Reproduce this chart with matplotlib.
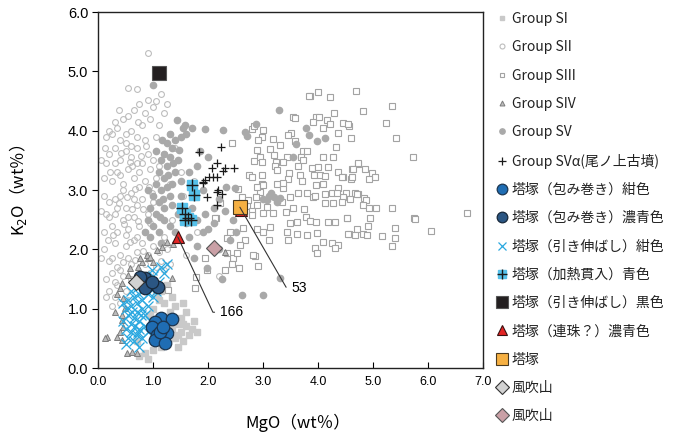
import numpy as np
import matplotlib
matplotlib.use("Agg")
import matplotlib.pyplot as plt

plt.rcParams['font.family'] = ['Noto Sans CJK JP', 'DejaVu Sans']

# ==============================
# DATA (MgO, K2O)
# ==============================
group_si = [(1.40, 0.50), (1.50, 0.60), (1.55, 0.45), (1.45, 0.75), (1.60, 0.70), (1.35, 0.65),
            (1.50, 0.85), (1.30, 0.95), (1.40, 1.05), (1.20, 1.10), (1.10, 1.15), (1.30, 0.80),
            (1.65, 0.55), (1.70, 0.65), (1.25, 0.45), (1.15, 0.35), (1.00, 0.30), (0.85, 0.25),
            (0.90, 0.15), (0.75, 0.20), (1.00, 1.00), (0.95, 0.90), (1.05, 1.25), (1.15, 1.30),
            (1.35, 1.20), (1.60, 0.95), (1.80, 0.60), (1.45, 0.35), (0.70, 0.45), (1.25, 1.40),
            (1.55, 1.10), (1.75, 0.80), (1.55, 0.75), (1.45, 0.55)]

group_sii = [(0.91, 5.31), (0.55, 4.72), (0.70, 4.70), (0.90, 4.52), (1.05, 4.50), (1.15, 4.62),
             (0.75, 4.45), (1.00, 4.40), (1.20, 4.30), (0.65, 4.35), (1.25, 4.45),
             (0.15, 3.90), (0.30, 4.15), (0.45, 4.20), (0.55, 4.25), (0.35, 4.05), (0.50, 3.95),
             (0.60, 4.00), (0.80, 4.10), (0.95, 4.20), (1.10, 4.10), (0.85, 3.85), (0.70, 3.90),
             (0.25, 3.95), (0.40, 3.85), (0.20, 4.00), (1.30, 3.95), (1.05, 3.90),
             (0.10, 3.20), (0.20, 3.60), (0.30, 3.70), (0.40, 3.50), (0.50, 3.65), (0.60, 3.55),
             (0.70, 3.70), (0.80, 3.45), (0.90, 3.60), (1.00, 3.50), (0.35, 3.30), (0.45, 3.10),
             (0.55, 3.35), (0.65, 3.20), (0.75, 3.30), (0.85, 3.15), (0.95, 3.35), (0.25, 3.15),
             (0.15, 3.45), (1.10, 3.40), (0.05, 3.50), (0.50, 3.80), (0.60, 3.75), (1.20, 3.60),
             (0.40, 3.25), (0.30, 3.45), (0.70, 3.45), (0.88, 3.75), (0.22, 3.30), (0.62, 3.40),
             (0.10, 2.90), (0.20, 2.80), (0.30, 2.60), (0.40, 2.90), (0.50, 2.70), (0.60, 2.95),
             (0.70, 2.75), (0.80, 2.85), (0.90, 2.60), (0.25, 2.40), (0.35, 2.30), (0.45, 2.50),
             (0.55, 2.35), (0.65, 2.55), (0.75, 2.40), (0.85, 2.30), (0.15, 2.60), (0.05, 2.65),
             (0.95, 2.45), (0.50, 2.25), (0.70, 2.20), (0.30, 2.85), (1.00, 2.80), (0.10, 2.30),
             (0.35, 2.70), (0.55, 2.55), (0.75, 3.05), (0.45, 3.00), (0.20, 2.55), (0.65, 2.85),
             (0.10, 2.00), (0.20, 1.80), (0.30, 2.10), (0.40, 1.90), (0.50, 2.05), (0.60, 1.75),
             (0.70, 1.95), (0.80, 2.10), (0.90, 1.90), (0.25, 1.60), (0.35, 1.70), (0.45, 1.55),
             (0.55, 1.85), (0.15, 1.50), (1.00, 2.05), (0.05, 1.85), (0.65, 2.15), (0.30, 1.45),
             (0.20, 1.30), (0.30, 1.20), (0.40, 1.10), (0.25, 1.05), (0.35, 1.40), (0.50, 1.30),
             (0.55, 1.15), (0.15, 1.20), (0.40, 1.65), (0.60, 1.50),
             (1.40, 3.70), (1.50, 3.30), (1.55, 2.90), (1.30, 3.10), (1.80, 2.30), (1.75, 3.15),
             (1.35, 2.50), (1.60, 1.90), (1.20, 2.20), (2.20, 1.55), (1.15, 1.80), (1.25, 2.00),
             (0.42, 3.62), (0.58, 3.48), (0.78, 3.58), (0.68, 3.02), (0.52, 2.88), (0.38, 2.78),
             (0.82, 2.68), (0.62, 2.68), (0.48, 2.42), (0.72, 2.48), (0.28, 2.25), (0.58, 2.12),
             (0.82, 1.98), (0.45, 1.78), (0.68, 1.82), (1.05, 1.70), (1.10, 1.95), (1.20, 1.65),
             (1.30, 1.75), (0.95, 1.60), (0.85, 1.75), (0.18, 2.15), (0.92, 3.05), (1.05, 3.20),
             (0.98, 2.95), (0.12, 3.70), (0.72, 4.15), (0.85, 4.30), (0.38, 4.35), (0.25, 1.85)]

group_siii = [(4.69, 4.67), (5.35, 4.42), (4.82, 4.33), (5.24, 4.13), (4.45, 4.13), (4.56, 4.08),
              (4.60, 3.87), (5.42, 3.88), (5.73, 3.56), (4.73, 3.44), (4.62, 3.36), (4.85, 3.36),
              (4.98, 3.29), (5.04, 3.22), (4.93, 3.19), (4.60, 3.19), (4.45, 3.22), (4.73, 2.93),
              (4.51, 2.95), (4.58, 2.85), (4.84, 2.87), (4.87, 2.83), (4.82, 2.75), (4.93, 2.70),
              (5.05, 2.70), (5.35, 2.70), (6.71, 2.61), (5.75, 2.53), (4.95, 2.53), (4.53, 2.53),
              (4.91, 2.39), (5.40, 2.36), (6.05, 2.31), (4.71, 2.34), (4.56, 2.26), (4.67, 2.24),
              (4.82, 2.26), (4.89, 2.24), (5.16, 2.22), (5.40, 2.19), (5.35, 2.05), (5.76, 2.51),
              (4.00, 4.65), (3.85, 4.58), (4.22, 4.57), (4.29, 4.30), (3.96, 4.23), (4.02, 4.23),
              (4.16, 4.18), (3.55, 4.23), (3.91, 4.15), (4.22, 4.11), (4.55, 4.11), (4.09, 4.05),
              (3.00, 4.01), (2.80, 4.03), (3.51, 3.96), (4.36, 3.96), (2.98, 3.89), (2.91, 3.84),
              (3.18, 3.86), (3.45, 3.93), (3.58, 3.83), (2.44, 3.80), (3.31, 3.76), (4.33, 3.73),
              (3.13, 3.69), (2.89, 3.67), (3.73, 3.66), (3.80, 3.66), (4.09, 3.56), (4.27, 3.56),
              (3.44, 3.56), (3.20, 3.59), (3.69, 3.56), (3.73, 3.51), (2.95, 3.56), (2.84, 3.49),
              (2.98, 3.47), (3.24, 3.47), (3.36, 3.47), (4.73, 3.46), (4.64, 3.36), (3.22, 3.40),
              (3.64, 3.40), (3.89, 3.37), (4.00, 3.39), (4.18, 3.39), (4.36, 3.30), (3.93, 3.25),
              (4.04, 3.25), (4.13, 3.24), (4.44, 3.22), (3.47, 3.29), (3.67, 3.25), (3.25, 3.34),
              (3.45, 3.19), (4.62, 3.22), (2.75, 3.25), (2.80, 3.22), (2.98, 3.25), (2.98, 3.10),
              (2.95, 2.97), (3.25, 3.10), (3.36, 3.03), (3.71, 3.15), (3.96, 3.08), (4.09, 3.10),
              (4.36, 3.03), (4.25, 2.95), (2.55, 3.02), (4.67, 2.95), (2.62, 2.88), (2.87, 2.88),
              (3.49, 2.88), (3.91, 2.88), (4.45, 2.88), (3.64, 2.95), (3.95, 2.90), (4.13, 2.93),
              (4.35, 2.95), (4.71, 2.93), (2.22, 2.78), (2.71, 2.73), (2.89, 2.75), (3.07, 2.71),
              (3.35, 2.80), (3.55, 2.70), (3.75, 2.68), (4.13, 2.78), (4.27, 2.78), (4.44, 2.80),
              (2.80, 2.65), (2.80, 2.58), (3.00, 2.61), (3.18, 2.61), (3.42, 2.63), (2.15, 2.53),
              (3.78, 2.55), (3.85, 2.48), (3.96, 2.46), (3.49, 2.45), (3.62, 2.46), (4.18, 2.46),
              (4.31, 2.46), (4.53, 2.53), (2.64, 2.36), (2.89, 2.34), (3.00, 2.29), (3.13, 2.38),
              (3.44, 2.29), (3.62, 2.26), (3.80, 2.24), (3.98, 2.28), (4.55, 2.26), (3.45, 2.16),
              (3.11, 2.16), (2.67, 2.16), (4.09, 2.12), (4.25, 2.10), (4.36, 2.07), (4.31, 2.02),
              (3.95, 2.02), (3.98, 1.94), (2.35, 1.94), (2.45, 1.85), (2.44, 1.75), (2.31, 1.65),
              (2.56, 1.69), (2.85, 1.89), (2.91, 1.72), (2.13, 2.53), (2.40, 2.29), (2.35, 2.19),
              (2.58, 2.07), (2.53, 1.94), (2.82, 1.90), (1.98, 1.65), (1.76, 1.35), (1.78, 1.53),
              (1.95, 1.85), (1.27, 1.31), (2.89, 3.05), (3.00, 3.08), (3.36, 3.12), (3.80, 2.95),
              (2.73, 2.83), (3.84, 4.58), (2.84, 4.08), (3.58, 4.21)]

group_siv = [(0.53, 0.25), (0.62, 0.27), (0.71, 0.25), (0.16, 0.52), (0.35, 0.52), (0.44, 0.47),
             (0.40, 0.61), (0.45, 0.69), (0.44, 0.81), (0.44, 0.89), (0.49, 1.01), (0.45, 1.18),
             (0.40, 1.35), (0.44, 1.43), (0.55, 1.57), (0.58, 1.69), (0.80, 1.79), (0.91, 1.85),
             (1.00, 1.79), (1.35, 1.52), (1.25, 2.12), (1.36, 2.09), (1.16, 2.04), (1.07, 1.99),
             (0.89, 1.90), (0.95, 1.87), (0.76, 1.85), (0.73, 1.70), (0.13, 0.50), (2.31, 1.96),
             (0.30, 0.95), (0.35, 1.25)]

group_sv = [(1.00, 4.77), (1.16, 3.84), (1.44, 4.18), (1.55, 4.04), (1.71, 4.04), (1.95, 4.03),
            (2.27, 4.01), (1.30, 3.95), (1.25, 3.80), (1.35, 3.70), (1.20, 3.60), (1.30, 3.55),
            (1.40, 3.85), (1.50, 3.90), (1.60, 3.95), (1.15, 3.50), (1.25, 3.40), (1.10, 3.30),
            (1.20, 3.20), (1.05, 3.10), (1.15, 3.00), (1.00, 2.90), (1.10, 2.80), (0.95, 2.70),
            (1.05, 2.60), (1.20, 2.70), (1.30, 2.90), (1.35, 3.10), (1.40, 3.30), (0.90, 2.50),
            (1.00, 2.40), (1.10, 2.30), (0.95, 2.20), (1.20, 2.50), (1.30, 2.40), (1.45, 2.60),
            (1.50, 2.90), (1.45, 3.50), (1.50, 3.15), (1.05, 3.65), (1.25, 3.05), (1.35, 2.75),
            (0.90, 3.00), (0.85, 2.30), (1.15, 2.10), (1.40, 2.30), (1.28, 3.25), (1.18, 2.85),
            (1.48, 3.68), (1.36, 3.45), (1.12, 2.55), (1.58, 4.10),
            (1.85, 3.65), (2.00, 3.55), (1.80, 3.40), (1.65, 3.30), (1.90, 3.00), (1.70, 2.70),
            (1.80, 2.50), (1.90, 2.30), (1.65, 2.20), (1.80, 2.05), (2.00, 2.35), (1.95, 2.60),
            (2.10, 2.45), (2.30, 2.65), (2.45, 2.50), (2.20, 2.85), (2.33, 3.05), (2.49, 3.03),
            (2.67, 3.98), (2.71, 3.91), (2.87, 4.11), (3.29, 4.35), (3.60, 3.78), (3.54, 3.56),
            (3.78, 4.05), (3.84, 3.93), (3.98, 3.83), (4.13, 3.88), (3.00, 2.85), (3.10, 2.90),
            (3.20, 2.88), (3.07, 2.83), (3.15, 2.95), (3.30, 2.87), (3.25, 2.80), (2.40, 2.16),
            (2.25, 1.50), (1.98, 1.69), (2.62, 1.23), (3.00, 1.23), (3.31, 1.52), (2.20, 2.00),
            (1.75, 1.85), (2.50, 2.30), (2.10, 2.70), (1.60, 2.45)]

group_sva = [(2.24, 3.72), (1.84, 3.64), (2.16, 3.45), (2.31, 3.37), (2.47, 3.37), (2.27, 3.32),
             (2.07, 3.37), (1.95, 3.17), (2.02, 3.22), (2.09, 3.22), (2.16, 3.22), (1.91, 3.14),
             (2.18, 3.00), (2.25, 2.93), (1.98, 2.88), (2.16, 2.75), (2.16, 2.97), (1.91, 3.12)]

tuzuka_wrap_navy = [(1.15, 0.85), (1.35, 0.83), (1.04, 0.77), (0.99, 0.69), (1.07, 0.56),
                    (1.18, 0.51), (1.04, 0.47), (1.25, 0.59), (1.22, 0.42), (1.13, 0.61),
                    (1.18, 0.69)]
tuzuka_wrap_dark = [(0.85, 1.52), (0.80, 1.45), (0.91, 1.40), (1.09, 1.37), (0.85, 1.35),
                    (0.98, 1.45), (0.76, 1.53)]
tuzuka_drawn_navy = [(0.50, 0.40), (0.55, 0.50), (0.60, 0.60), (0.65, 0.45), (0.70, 0.55),
                     (0.75, 0.65), (0.80, 0.50), (0.85, 0.70), (0.60, 0.75), (0.65, 0.85),
                     (0.70, 0.95), (0.75, 0.80), (0.55, 0.90), (0.50, 1.00), (0.60, 1.05),
                     (0.70, 1.10), (0.80, 1.00), (0.85, 0.90), (0.90, 1.05), (0.65, 1.20),
                     (0.75, 1.25), (0.55, 1.15), (0.45, 0.80), (0.50, 0.65), (0.80, 1.15),
                     (0.90, 1.25), (0.95, 1.35), (0.85, 1.40), (0.70, 1.35), (0.60, 1.30),
                     (0.75, 0.35), (0.90, 0.60), (0.95, 0.80), (0.45, 1.10), (0.68, 0.70),
                     (0.72, 0.60), (0.62, 0.95), (0.78, 0.90), (1.00, 1.20), (1.05, 1.30),
                     (1.10, 1.45), (1.00, 1.55), (1.15, 1.70), (1.20, 1.60), (1.25, 1.75),
                     (0.98, 1.65)]
tuzuka_heated_blue = [(1.71, 3.08), (1.75, 2.92), (1.53, 2.70), (1.58, 2.49), (1.69, 2.49),
                      (1.64, 2.53), (1.58, 2.60)]
tuzuka_drawn_black = [(1.11, 4.97)]
tuzuka_bead_dark = [(2.60, 2.67), (1.45, 2.21)]
tuzuka = [(2.58, 2.71)]
fukiyama_gray = [(0.69, 1.45)]
fukiyama_pink = [(2.11, 2.02)]

labels = ["Group SI", "Group SII", "Group SIII", "Group SIV", "Group SV",
          "Group SVα(尾ノ上古墳)",
          "塔塚（包み巻き）紺色", "塔塚（包み巻き）濃青色", "塔塚（引き伸ばし）紺色",
          "塔塚（加熱貫入）青色", "塔塚（引き伸ばし）黒色", "塔塚（連珠？）濃青色",
          "塔塚", "風吹山", "風吹山"]

# sample numbers and where their text sits
note_166 = ("166", (2.22, 0.94))
note_53 = ("53", (3.52, 1.35))


def xy(pts):
    a = np.array(pts)
    return a[:, 0], a[:, 1]


fig = plt.figure(figsize=(6.77, 4.38), dpi=100)
ax = fig.add_axes([98 / 677, 70 / 438, 385 / 677, 356 / 438])

h_si, = ax.plot(*xy(group_si), 's', ms=4, color='#c9c9c9', mec='#c9c9c9', zorder=2)
h_sii, = ax.plot(*xy(group_sii), 'o', ms=4.2, mfc='none', mec='#bdbdbd', mew=0.8, zorder=1)
h_siii, = ax.plot(*xy(group_siii), 's', ms=4.2, mfc='white', mec='#a3a3a3', mew=0.8, zorder=2)
h_siv, = ax.plot(*xy(group_siv), '^', ms=4.2, mfc='#bcbcbc', mec='#7d7d7d', mew=0.7, zorder=3)
h_sv, = ax.plot(*xy(group_sv), 'o', ms=4.5, color='#a9a9a9', mec='#a9a9a9', zorder=2)
h_sva, = ax.plot(*xy(group_sva), '+', ms=6, color='#1a1a1a', mew=0.9, zorder=4)

h_wn, = ax.plot(*xy(tuzuka_wrap_navy), 'o', ms=9, mfc='#1f6db3', mec='#1b3550', mew=0.9, zorder=6)
h_wd, = ax.plot(*xy(tuzuka_wrap_dark), 'o', ms=9, mfc='#2b5683', mec='#17283a', mew=0.9, zorder=6)
h_dn, = ax.plot(*xy(tuzuka_drawn_navy), 'x', ms=7, color='#2aa8e0', mew=0.9, zorder=5)
h_hb_sq, = ax.plot(*xy(tuzuka_heated_blue), 's', ms=7.5, color='#56c1ea', mec='#56c1ea', zorder=6)
h_hb_pl, = ax.plot(*xy(tuzuka_heated_blue), '+', ms=9, color='#1a1a1a', mew=1.0, zorder=7)
h_db, = ax.plot(*xy(tuzuka_drawn_black), 's', ms=10, mfc='#231f20', mec='#555555', mew=0.8, zorder=8)
h_bd, = ax.plot(*xy(tuzuka_bead_dark), '^', ms=9, mfc='#e32424', mec='#3a1010', mew=0.8, zorder=8)
h_tz, = ax.plot(*xy(tuzuka), 's', ms=9.5, mfc='#f6b042', mec='#4a3a20', mew=0.8, zorder=9)
h_fg, = ax.plot(*xy(fukiyama_gray), 'D', ms=8, mfc='#d2d2d2', mec='#333333', mew=0.8, zorder=8)
h_fp, = ax.plot(*xy(fukiyama_pink), 'D', ms=8, mfc='#caa0a6', mec='#555555', mew=0.8, zorder=8)

# leader lines for sample numbers
for (txt, pos), pt in [(note_166, tuzuka_bead_dark[1]), (note_53, tuzuka[0])]:
    ang = -65 if txt == "166" else -60
    ax.annotate(txt, xy=pt, xytext=pos, fontsize=10, va='center', ha='left',
                family=['Liberation Sans', 'DejaVu Sans'], zorder=10,
                arrowprops=dict(arrowstyle='-', color='#333333', lw=0.8, shrinkA=2, shrinkB=0,
                                connectionstyle='angle,angleA=180,angleB=%d,rad=0' % ang))

ax.set_xlim(0, 7)
ax.set_ylim(0, 6)
ax.set_xticks(np.arange(0, 8, 1))
ax.set_yticks(np.arange(0, 7, 1))
ax.set_xticklabels(["%.1f" % v for v in range(8)], family=['Liberation Sans Narrow', 'Liberation Sans'], fontsize=9)
ax.set_yticklabels(["%.1f" % v for v in range(7)], family=['Liberation Sans Narrow', 'Liberation Sans'], fontsize=10.5)
ax.tick_params(axis='x', direction='in', length=4, width=0.8, pad=6)
ax.tick_params(axis='y', direction='out', length=4, width=0.8, pad=3)
for s in ax.spines.values():
    s.set_linewidth(1.0)
    s.set_color('#222222')

fig.text(298 / 677, 1 - 423 / 438, "MgO（wt％）", ha='center', va='center', fontsize=12)
fig.text(18 / 677, 1 - 190 / 438, "K$_2$O（wt％）", ha='center', va='center', rotation=90, fontsize=12)

handles = [h_si, h_sii, h_siii, h_siv, h_sv, h_sva, h_wn, h_wd, h_dn, (h_hb_sq, h_hb_pl),
           h_db, h_bd, h_tz, h_fg, h_fp]
leg = fig.legend(handles, labels, loc='upper left', bbox_to_anchor=(497 / 677, 1 - 12 / 438),
                 frameon=False, fontsize=10, handlelength=0.7, handletextpad=0.35,
                 labelspacing=1.03, borderaxespad=0, borderpad=0, numpoints=1, markerscale=0.85)
for t in leg.get_texts():
    t.set_color('#222222')

fig.savefig("out.png", dpi=100)
